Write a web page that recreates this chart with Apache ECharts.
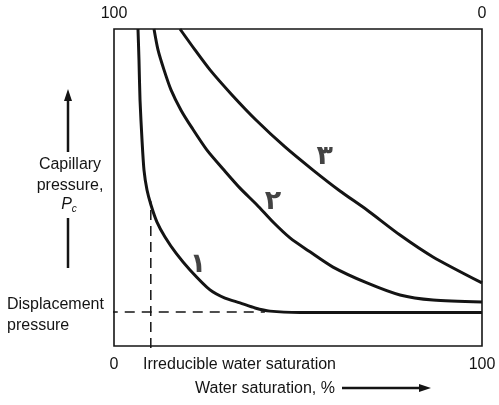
<!DOCTYPE html>
<html>
<head>
<meta charset="utf-8">
<script src="https://cdn.jsdelivr.net/npm/echarts@6/dist/echarts.min.js"></script>
<style>
html,body{margin:0;padding:0;background:#fff;}
#chart{width:499px;height:405px;}
</style>
</head>
<body>
<div id="chart"></div>
<script>
// Water saturation (%) vs capillary pressure (relative, 0-100)
const curve1X = [6.52, 6.79, 7.07, 7.61, 8.15, 8.97, 10.05, 11.68, 13.86, 16.85, 20.65, 26.09, 30.16, 34.24, 38.32, 42.39, 50.54, 64.13, 77.72, 100];
const curve1Y = [100, 90.2, 77.6, 65.0, 55.5, 49.2, 44.5, 39.1, 34.4, 29.3, 24.0, 17.7, 15.1, 13.6, 12.0, 11.0, 10.6, 10.6, 10.6, 10.6];
const curve2X = [10.87, 11.96, 13.59, 15.49, 18.21, 21.20, 25.27, 29.89, 34.24, 38.86, 43.21, 47.83, 53.26, 59.51, 68.75, 77.72, 86.68, 100];
const curve2Y = [100, 93.4, 87.1, 80.8, 74.4, 68.8, 61.8, 55.5, 49.8, 44.5, 39.1, 34.1, 29.7, 24.9, 19.9, 16.1, 14.5, 13.9];
const curve3X = [17.93, 22.01, 26.09, 32.07, 38.59, 46.47, 54.08, 61.41, 68.75, 77.72, 86.68, 100];
const curve3Y = [100, 93.4, 87.1, 79.2, 71.3, 62.8, 55.5, 48.9, 42.9, 35.0, 28.1, 19.9];
const curveNames = ['۱', '۲', '۳'];
const curveLabelX = [22.8, 43.2, 57.3];
const curveLabelY = [25.6, 45.4, 59.6];
const irreducibleSw = 10;
const irreducibleTopPc = 45.7;
const displacementPc = 10.7;
const displacementEndSw = 41;
const bottomTicks = [0, 100];
const topTicks = [100, 0];

const zip = (xs, ys) => xs.map((x, i) => [x, ys[i]]);
const ink = '#141414';
const font = 'Liberation Sans, Arial, sans-serif';

const chart = echarts.init(document.getElementById('chart'), null, {renderer: 'canvas'});

const curveSeries = [[curve1X, curve1Y], [curve2X, curve2Y], [curve3X, curve3Y]].map((c, i) => ({
  type: 'line',
  name: curveNames[i],
  data: zip(c[0], c[1]),
  smooth: 0.25,
  showSymbol: false,
  lineStyle: {color: ink, width: 3},
  z: 5
}));

chart.setOption({
  animation: false,
  backgroundColor: '#fff',
  grid: {left: 114, right: 17, top: 29, bottom: 59, show: true, borderColor: ink, borderWidth: 1.6, containLabel: false, outerBoundsMode: 'none'},
  xAxis: [{
    type: 'value', min: 0, max: 100, interval: 100, position: 'bottom',
    axisLine: {show: false}, axisTick: {show: false}, splitLine: {show: false},
    axisLabel: {show: true, color: ink, fontFamily: font, fontSize: 16, margin: 11,
      customValues: bottomTicks}
  }, {
    type: 'value', min: 0, max: 100, interval: 100, position: 'top', inverse: true,
    axisLine: {show: false}, axisTick: {show: false}, splitLine: {show: false},
    axisLabel: {show: true, color: ink, fontFamily: font, fontSize: 16, margin: 7,
      customValues: topTicks}
  }],
  yAxis: {
    type: 'value', min: 0, max: 100,
    axisLine: {show: false}, axisTick: {show: false}, splitLine: {show: false}, axisLabel: {show: false}
  },
  series: curveSeries.concat([
    {
      type: 'line', name: 'irreducible', data: [[irreducibleSw, -0.6], [irreducibleSw, irreducibleTopPc]],
      showSymbol: false, clip: false,
      lineStyle: {color: ink, width: 1.5, type: [10, 6]}, z: 3
    },
    {
      type: 'line', name: 'displacement', data: [[-1.7, displacementPc], [displacementEndSw, displacementPc]],
      showSymbol: false, clip: false,
      lineStyle: {color: ink, width: 1.5, type: [10, 7]}, z: 3
    },
    {
      type: 'scatter', name: 'labels',
      data: curveLabelX.map((x, i) => [x, curveLabelY[i], curveNames[i]]),
      symbolSize: 1, itemStyle: {color: 'rgba(0,0,0,0)'},
      label: {show: true, position: 'inside', formatter: p => p.value[2],
        color: ink, fontFamily: 'DejaVu Sans', fontWeight: 'bold', fontSize: 27},
      z: 6
    }
  ]),
  graphic: [
    {type: 'text', left: 143, top: 357, style: {text: 'Irreducible water saturation', fill: ink, font: '16px ' + font}},
    {type: 'text', left: 195, top: 381, style: {text: 'Water saturation, %', fill: ink, font: '16px ' + font}},
    {type: 'line', shape: {x1: 342, y1: 388, x2: 422, y2: 388}, style: {stroke: ink, lineWidth: 2.5}},
    {type: 'polygon', shape: {points: [[431, 388], [419, 384], [419, 392]]}, style: {fill: ink}},
    {type: 'line', shape: {x1: 68, y1: 152, x2: 68, y2: 98}, style: {stroke: ink, lineWidth: 2.5}},
    {type: 'polygon', shape: {points: [[68, 89], [64, 101], [72, 101]]}, style: {fill: ink}},
    {type: 'text', x: 70, y: 165, style: {text: 'Capillary', fill: ink, font: '16px ' + font, align: 'center', verticalAlign: 'middle'}},
    {type: 'text', x: 70, y: 186, style: {text: 'pressure,', fill: ink, font: '16px ' + font, align: 'center', verticalAlign: 'middle'}},
    {type: 'text', x: 69, y: 205, style: {text: '{p|P}{c|c}', align: 'center', verticalAlign: 'middle',
      rich: {p: {fill: ink, font: 'italic 16px ' + font}, c: {fill: ink, font: 'italic 10px ' + font, padding: [8, 0, 0, 0]}}}},
    {type: 'line', shape: {x1: 68, y1: 218, x2: 68, y2: 268}, style: {stroke: ink, lineWidth: 2.5}},
    {type: 'text', left: 7, top: 297, style: {text: 'Displacement', fill: ink, font: '16px ' + font}},
    {type: 'text', left: 7, top: 318, style: {text: 'pressure', fill: ink, font: '16px ' + font}}
  ]
});
</script>
</body>
</html>
